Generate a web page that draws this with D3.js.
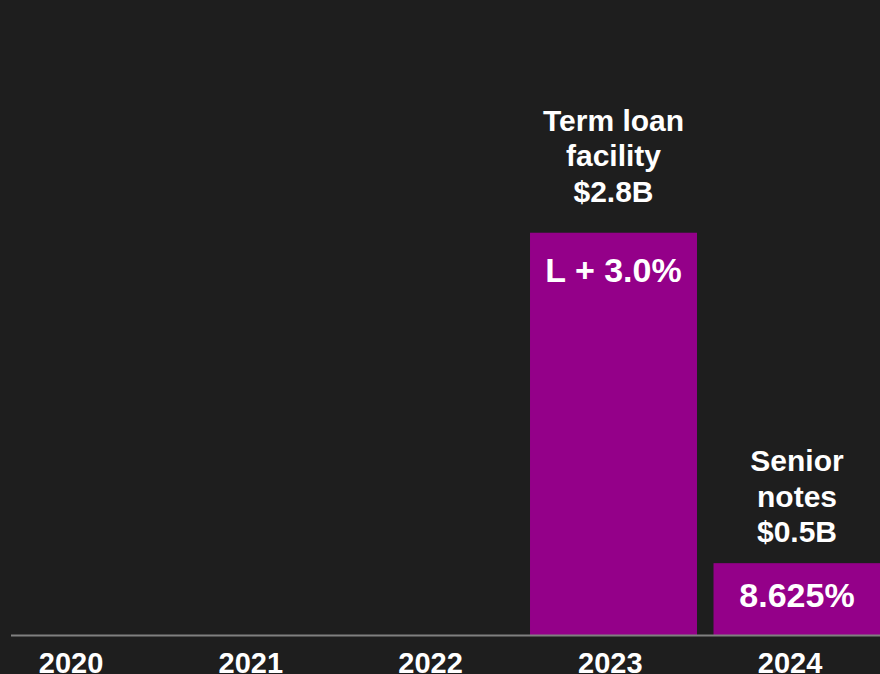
<!DOCTYPE html>
<html>
<head>
<meta charset="utf-8">
<script src="https://cdn.jsdelivr.net/npm/d3@7"></script>
<style>
  html, body { margin: 0; padding: 0; background: #1e1e1e; overflow: hidden; }
  svg { display: block; }
  text { font-family: "Liberation Sans", Arial, Helvetica, sans-serif; font-weight: bold; fill: #ffffff; }
</style>
</head>
<body>
<svg id="chart" width="880" height="674"></svg>
<script>
// Debt maturity profile, $B by year
const years = ["2020", "2021", "2022", "2023", "2024"];
const amounts = [0, 0, 0, 2.8, 0.5];
const instruments = ["", "", "", "Term loan|facility|$2.8B", "Senior|notes|$0.5B"];
const rates = ["", "", "", "L + 3.0%", "8.625%"];

const W = 880, H = 674;
const baseY = 635;
const yMax = 4.42;

const svg = d3.select("#chart");
svg.append("rect").attr("width", W).attr("height", H).attr("fill", "#1e1e1e");

// Bars sit on a band scale; year captions use their own point scale
const x = d3.scaleBand()
  .domain(years)
  .range([-28.75, 888.75])
  .paddingInner(0.09)
  .paddingOuter(0.045);

const xLabel = d3.scalePoint()
  .domain(years)
  .range([70.5, 789.5]);

const y = d3.scaleLinear().domain([0, yMax]).range([baseY, 0]);

const rows = years.map((yr, i) => ({
  year: yr, value: amounts[i], name: instruments[i], rate: rates[i]
})).filter(d => d.value > 0);

// bars
svg.append("g").selectAll("rect")
  .data(rows)
  .join("rect")
  .attr("x", d => x(d.year))
  .attr("y", d => y(d.value))
  .attr("width", x.bandwidth())
  .attr("height", d => y(0) - y(d.value))
  .attr("fill", "#940089");

// baseline
svg.append("line")
  .attr("x1", 11).attr("x2", W)
  .attr("y1", baseY + 0.5).attr("y2", baseY + 0.5)
  .attr("stroke", "#808080")
  .attr("stroke-width", 2);

// year captions
const axis = d3.axisBottom(xLabel).tickSize(0).tickPadding(0);
const gAxis = svg.append("g")
  .attr("transform", `translate(0,${baseY})`)
  .call(axis);
gAxis.select(".domain").remove();
gAxis.selectAll("text")
  .attr("dy", null)
  .attr("y", 38)
  .style("font-size", "29px")
  .style("font-family", "'Liberation Sans', Arial, sans-serif")
  .style("font-weight", "bold")
  .attr("fill", "#ffffff");

// instrument notes above bars (gap to bar top, in px)
const noteGap = { "2023": 31, "2024": 21 };
const lineH = 35.5;
rows.forEach(d => {
  const lines = d.name.split("|");
  const t = svg.append("text")
    .attr("text-anchor", "middle")
    .style("font-size", "30px");
  const lastBase = y(d.value) - noteGap[d.year];
  lines.forEach((ln, k) => {
    t.append("tspan")
      .attr("x", x(d.year) + x.bandwidth() / 2)
      .attr("y", lastBase - (lines.length - 1 - k) * lineH)
      .text(ln);
  });
});

// rate labels inside bars (baseline offset below bar top)
const rateDrop = { "2023": 49, "2024": 44 };
svg.append("g").selectAll("text")
  .data(rows)
  .join("text")
  .attr("text-anchor", "middle")
  .attr("x", d => x(d.year) + x.bandwidth() / 2)
  .attr("y", d => y(d.value) + rateDrop[d.year])
  .style("font-size", "34px")
  .text(d => d.rate);
</script>
</body>
</html>
